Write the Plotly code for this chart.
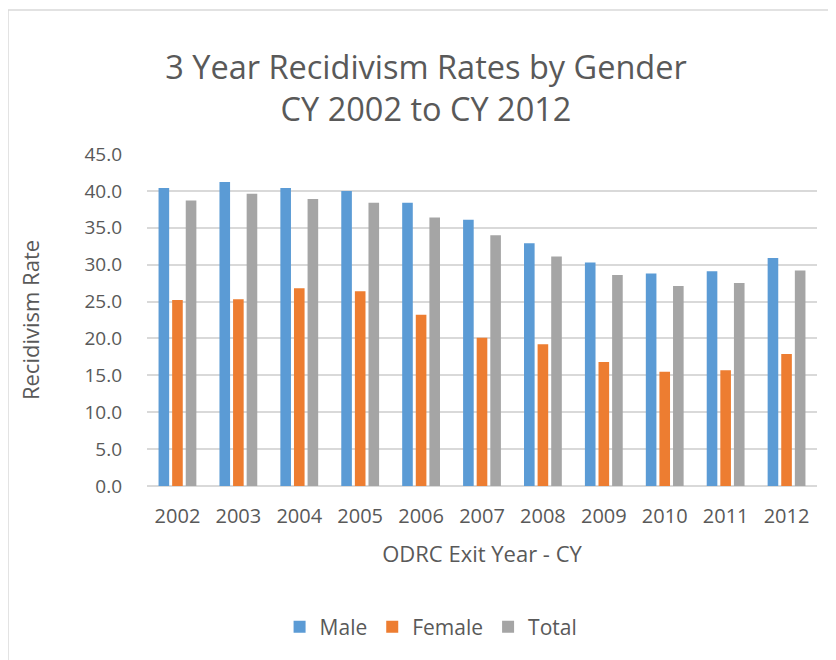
import plotly.graph_objects as go

years = ["2002", "2003", "2004", "2005", "2006", "2007", "2008", "2009", "2010", "2011", "2012"]
male = [40.4, 41.2, 40.4, 40.0, 38.4, 36.1, 32.9, 30.3, 28.8, 29.1, 30.9]
female = [25.2, 25.3, 26.8, 26.4, 23.2, 20.1, 19.2, 16.8, 15.5, 15.7, 17.9]
total = [38.7, 39.6, 38.9, 38.4, 36.4, 34.0, 31.1, 28.6, 27.1, 27.5, 29.2]

font_family = "Open Sans, Liberation Sans, sans-serif"
text_color = "#595959"

fig = go.Figure()
fig.add_trace(go.Bar(name="Male", x=years, y=male, marker_color="#5b9bd5"))
fig.add_trace(go.Bar(name="Female", x=years, y=female, marker_color="#ed7d31"))
fig.add_trace(go.Bar(name="Total", x=years, y=total, marker_color="#a5a5a5"))

fig.update_layout(
    template="none",
    width=836, height=660,
    paper_bgcolor="white", plot_bgcolor="white",
    margin=dict(l=139, r=27, t=146, b=182, autoexpand=False),
    barmode="group", bargap=0.33, bargroupgap=0.22,
    font=dict(family=font_family, color=text_color, size=19),
    title=dict(
        text="3 Year Recidivism Rates by Gender<br>CY 2002 to CY 2012",
        x=0.5, xanchor="center", y=0.893, yanchor="top",
        font=dict(size=32.5, color=text_color, family=font_family),
    ),
    xaxis=dict(
        type="category",
        title=dict(text="ODRC Exit Year - CY", font=dict(size=22), standoff=18),
        showgrid=False, showline=False, ticks="", tickfont=dict(size=20),
        ticklabelstandoff=16, automargin=False, zeroline=False,
    ),
    yaxis=dict(
        title=dict(text="Recidivism Rate", font=dict(size=22), standoff=38),
        range=[0, 45], dtick=5, tickformat=".1f",
        showgrid=True, gridcolor="#d9d9d9", gridwidth=1.5,
        zeroline=True, zerolinecolor="#d9d9d9", zerolinewidth=1.5,
        showline=False, ticks="", tickfont=dict(size=19),
        ticklabelstandoff=24, automargin=False,
    ),
    legend=dict(
        orientation="h", x=0.424, xanchor="center", y=-0.425, yanchor="middle",
        font=dict(size=21), traceorder="normal", itemwidth=30,
        bgcolor="rgba(0,0,0,0)",
    ),
    shapes=[dict(type="rect", xref="paper", yref="paper",
                 x0=-0.2075, x1=1.2, y0=-0.7, y1=1.434,
                 line=dict(color="#d9d9d9", width=1.5))],
)

fig.write_html("out.html")
